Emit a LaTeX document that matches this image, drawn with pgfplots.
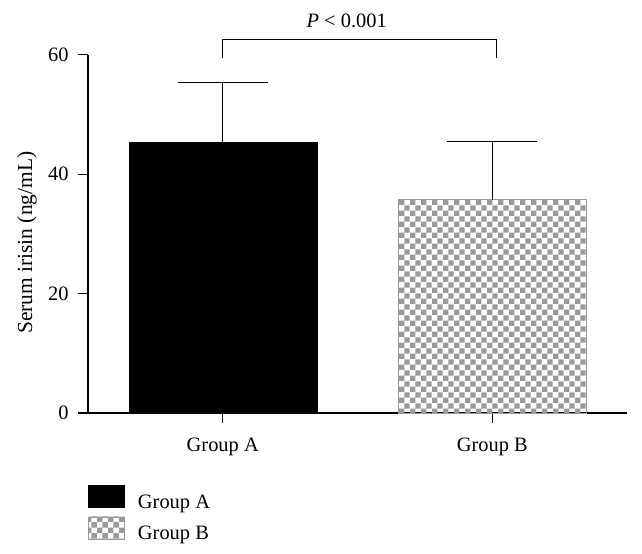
\documentclass[border=0pt]{standalone}
\usepackage{pgfplots}
\pgfplotsset{compat=1.18}
\usepackage{fontspec}
\setmainfont{Liberation Serif}
\usetikzlibrary{patterns}
\definecolor{chkgray}{HTML}{9A9A9A}
\pgfdeclarepatternformonly{mycheck}{\pgfpointorigin}{\pgfqpoint{10.8bp}{10.8bp}}{\pgfqpoint{10.8bp}{10.8bp}}{%
  \pgfpathrectangle{\pgfpointorigin}{\pgfqpoint{5.4bp}{5.4bp}}%
  \pgfpathrectangle{\pgfqpoint{5.4bp}{5.4bp}}{\pgfqpoint{5.4bp}{5.4bp}}%
  \pgfusepath{fill}}
\begin{document}
\begin{tikzpicture}
\useasboundingbox (-88bp,-141bp) rectangle (554bp,413bp);
\begin{axis}[
  at={(0,0)}, anchor=south west,
  scale only axis, width=539bp, height=358.4bp,
  xmin=-0.5, xmax=1.5, ymin=0, ymax=60,
  axis x line*=bottom, axis y line*=left,
  axis line style={line width=1.1bp},
  every tick/.style={line width=1.1bp, black},
  tick align=outside, major tick length=10bp,
  xtick={0,1}, xticklabels={Group A, Group B},
  ytick={0,20,40,60},
  font=\fontsize{20.5}{24}\selectfont,
  ticklabel style={font=\fontsize{20.5}{24}\selectfont},
  /pgf/number format/assume math mode=true,
  xticklabel style={yshift=-11bp},
  yticklabel style={xshift=-6bp},
  ylabel={Serum irisin (ng/mL)},
  ylabel style={at={(axis description cs:-0.113,0.475)}, anchor=center, rotate=0, font=\fontsize{21.5}{24}\selectfont},
  clip=false,
  ybar, bar width=188bp,
  error bars/y dir=plus, error bars/y explicit,
  error bars/error bar style={line width=1.1bp, black},
  error bars/error mark options={rotate=90, mark size=45bp, line width=1.1bp, black},
  legend style={at={(axis description cs:0.0,-0.2)}, anchor=north west, draw=none, fill=none,
    inner sep=0pt, row sep=5bp, font=\fontsize{20.5}{24}\selectfont,
    /tikz/every odd column/.append style={column sep=11bp}},
  legend cell align=left,
  legend image code/.code={\draw[#1] (0bp,-5bp) rectangle (36bp,17bp);},
]
\addplot[fill=black, draw=black, bar shift=0pt] coordinates {(0,45.3) +- (0,10.1)};
\addlegendentry{Group A}
\addplot[pattern=mycheck, pattern color=chkgray, draw=chkgray, line width=0.8bp, bar shift=0pt,
  error bars/error bar style={line width=1.1bp, black}] coordinates {(1,35.7) +- (0,9.7)};
\addlegendentry{Group B}
\draw[line width=1.1bp] (axis cs:0,59.4) -- (axis cs:0,62.6) -- (axis cs:1.015,62.6) -- (axis cs:1.015,59.4);
\node[font=\fontsize{20.5}{24}\selectfont] at (axis cs:0.46,65.6) {\textit{P} < 0.001};
\end{axis}
\end{tikzpicture}
\end{document}
